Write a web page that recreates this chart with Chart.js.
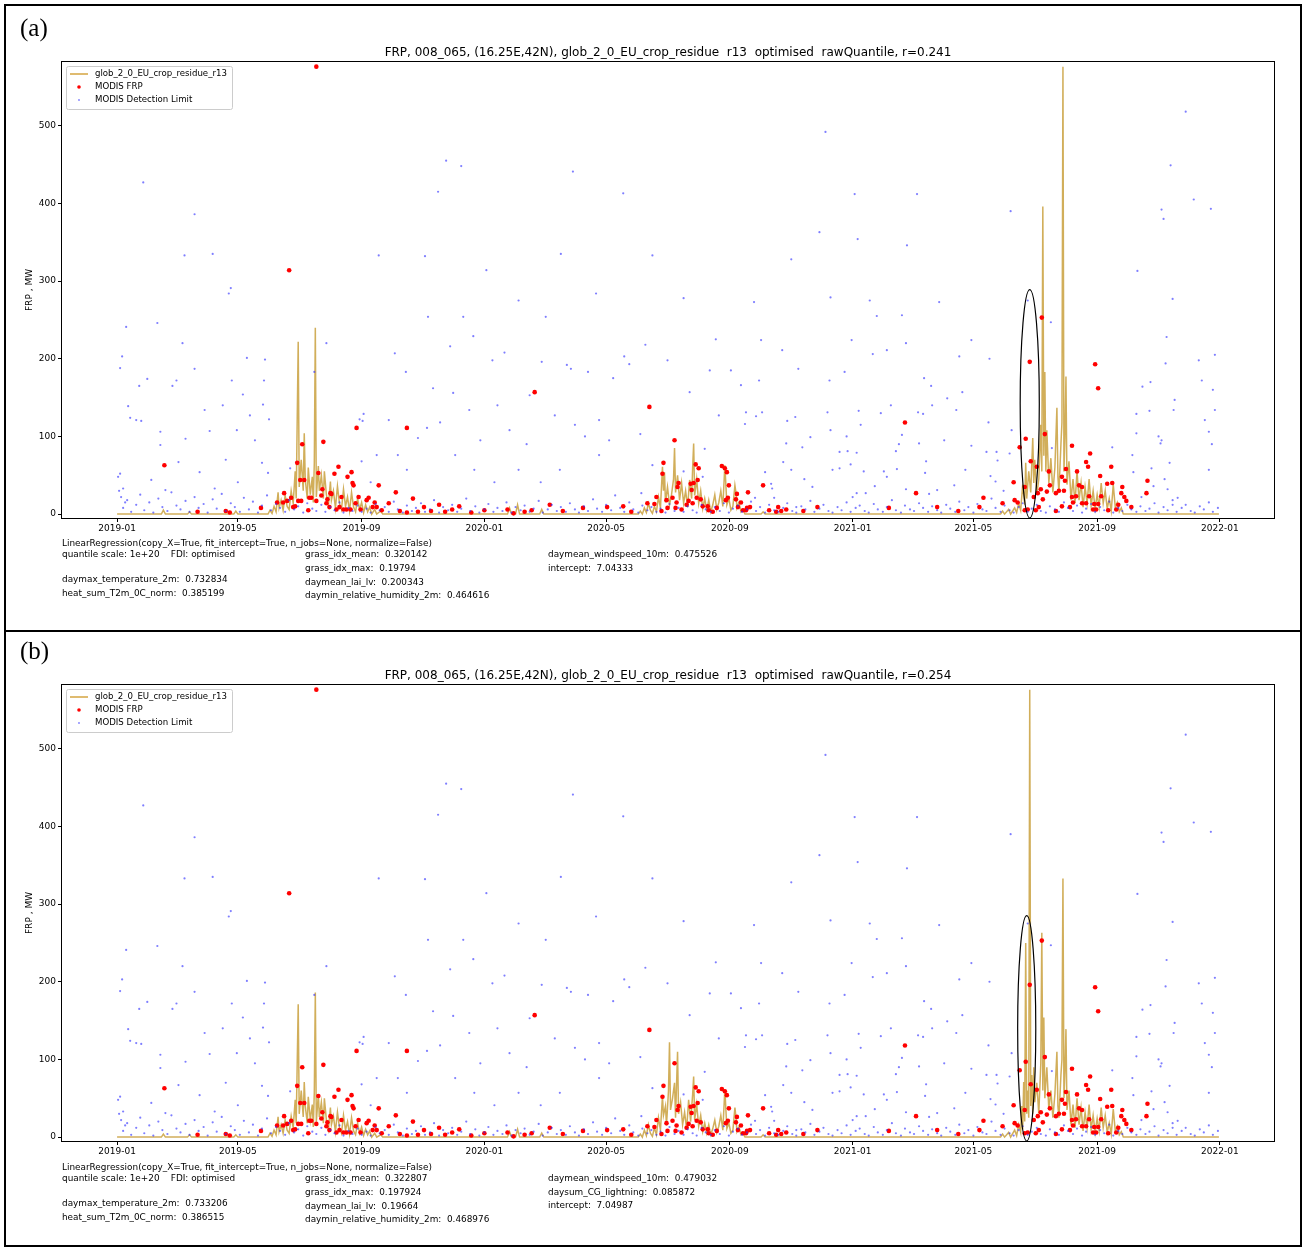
<!DOCTYPE html>
<html>
<head>
<meta charset="utf-8">
<script src="https://cdn.jsdelivr.net/npm/chart.js@4.4.0/dist/chart.umd.min.js"></script>
<style>
body { margin:0; background:#fff; width:1306px; height:1250px; position:relative; overflow:hidden; font-family:"DejaVu Sans", sans-serif; color:#000; }
canvas { position:absolute; left:0; }
.box { position:absolute; left:4px; top:4px; width:1298px; height:1243px; border:2px solid #000; box-sizing:border-box; }
.divider { position:absolute; left:4px; top:630px; width:1298px; height:2px; background:#000; }
.tag { position:absolute; left:20px; font-family:"Liberation Serif", serif; font-size:25px; line-height:25px; }
.t { position:absolute; font-size:8.9px; line-height:10px; white-space:pre; }
</style>
</head>
<body>
<canvas id="chartA" width="1306" height="625" style="top:0"></canvas>
<canvas id="chartB" width="1306" height="625" style="top:623px"></canvas>
<div class="box"></div>
<div class="divider"></div>
<div class="tag" style="top:15px">(a)</div>
<div class="tag" style="top:638px">(b)</div>

<div class="t" style="left:62px;top:538px">LinearRegression(copy_X=True, fit_intercept=True, n_jobs=None, normalize=False)</div>
<div class="t" style="left:62px;top:549px">quantile scale: 1e+20    FDI: optimised</div>
<div class="t" style="left:62px;top:574px">daymax_temperature_2m:  0.732834</div>
<div class="t" style="left:62px;top:588px">heat_sum_T2m_0C_norm:  0.385199</div>
<div class="t" style="left:305px;top:549px">grass_idx_mean:  0.320142</div>
<div class="t" style="left:305px;top:563px">grass_idx_max:  0.19794</div>
<div class="t" style="left:305px;top:577px">daymean_lai_lv:  0.200343</div>
<div class="t" style="left:305px;top:590px">daymin_relative_humidity_2m:  0.464616</div>
<div class="t" style="left:548px;top:549px">daymean_windspeed_10m:  0.475526</div>
<div class="t" style="left:548px;top:563px">intercept:  7.04333</div>

<div class="t" style="left:62px;top:1162px">LinearRegression(copy_X=True, fit_intercept=True, n_jobs=None, normalize=False)</div>
<div class="t" style="left:62px;top:1173px">quantile scale: 1e+20    FDI: optimised</div>
<div class="t" style="left:62px;top:1198px">daymax_temperature_2m:  0.733206</div>
<div class="t" style="left:62px;top:1212px">heat_sum_T2m_0C_norm:  0.386515</div>
<div class="t" style="left:305px;top:1173px">grass_idx_mean:  0.322807</div>
<div class="t" style="left:305px;top:1187px">grass_idx_max:  0.197924</div>
<div class="t" style="left:305px;top:1201px">daymean_lai_lv:  0.19664</div>
<div class="t" style="left:305px;top:1214px">daymin_relative_humidity_2m:  0.468976</div>
<div class="t" style="left:548px;top:1173px">daymean_windspeed_10m:  0.479032</div>
<div class="t" style="left:548px;top:1187px">daysum_CG_lightning:  0.085872</div>
<div class="t" style="left:548px;top:1200px">intercept:  7.04987</div>

<script>
// x values are days since 2019-01-01, y values are FRP in MW

const xTickLabels = ["2019-01", "2019-05", "2019-09", "2020-01", "2020-05", "2020-09", "2021-01", "2021-05", "2021-09", "2022-01"];
const yTicks = [0, 100, 200, 300, 400, 500];

// model FRP, panel (a)
const modelA = [
	[0,0],[44,0],[46,5],[48,0],[70,0],[72,3],[74,0],[116,0],[118,4],[120,0],[150,0],[152,5],[154,1],[156,10],[158,3],[160,28],[161,8],[163,18],[165,5],[167,24],[169,10],[171,6],[173,30],[175,14],[177,55],[178,20],[180,222],[181,35],[183,70],[185,30],[186,104],[187,45],[189,20],[190,60],[192,25],[194,48],[195,15],[196,66],[197,240],[198,22],[200,62],[201,30],[203,50],[205,20],[206,55],[208,25],[210,12],[212,42],[213,18],[215,30],[217,8],[219,36],[221,14],[223,6],[225,32],[227,10],[229,22],[231,4],[233,28],[235,9],[237,3],[239,20],[241,6],[243,15],[245,2],[247,12],[249,3],[251,9],[253,0],[256,6],[258,0],[262,4],[264,0],
	[388,0],[390,8],[392,0],[396,0],[398,12],[400,0],[420,0],[422,6],[424,0],
	[518,0],[520,4],[522,0],[524,8],[526,2],[528,14],[530,5],[532,1],[534,10],[536,3],[538,22],[540,8],[542,61],[543,30],[544,54],[545,15],[547,35],[549,12],[551,25],[553,45],[554,85],[555,28],[557,50],[559,18],[561,40],[563,14],[565,30],[567,9],[569,44],[571,20],[572,60],[573,91],[574,24],[576,45],[578,14],[580,30],[582,7],[584,20],[586,5],[588,18],[590,3],[592,12],[594,25],[596,6],[598,15],[600,30],[602,10],[604,63],[605,38],[606,12],[608,20],[610,5],[612,10],[614,37],[615,28],[616,8],[618,15],[620,3],[622,6],[624,0],[640,0],[642,3],[644,0],
	[878,0],[880,4],[882,0],[886,6],[888,0],[892,8],[894,2],[896,14],[898,5],[900,38],[902,12],[903,66],[904,20],[906,55],[908,28],[910,98],[911,40],[912,70],[914,25],[916,45],[918,115],[919,55],[920,396],[921,75],[922,183],[923,55],[924,108],[926,40],[928,72],[930,28],[932,60],[934,137],[935,48],[936,28],[938,90],[939,118],[940,576],[941,55],[942,100],[943,177],[944,38],[946,68],[948,18],[950,45],[952,14],[954,55],[956,18],[958,40],[960,9],[962,35],[964,14],[966,45],[968,11],[970,30],[972,7],[974,25],[976,9],[978,40],[980,14],[982,30],[984,7],[986,20],[988,4],[990,38],[992,9],[994,15],[996,3],[998,8],[1000,0],[1095,0]
];

// model FRP, panel (b)
const modelB = [
	[0,0],[44,0],[46,4],[48,0],[70,0],[72,3],[74,0],[116,0],[118,3],[120,0],[150,0],[152,5],[154,1],[156,9],[158,3],[160,26],[161,7],[163,16],[165,5],[167,22],[169,9],[171,5],[173,27],[175,12],[177,48],[178,18],[180,171],[181,30],[183,60],[185,26],[186,71],[187,40],[189,18],[190,52],[192,22],[194,42],[195,13],[196,58],[197,186],[198,20],[200,55],[201,26],[203,45],[205,18],[206,50],[208,22],[210,10],[212,38],[213,16],[215,27],[217,7],[219,32],[221,12],[223,5],[225,28],[227,9],[229,20],[231,4],[233,25],[235,8],[237,3],[239,18],[241,5],[243,13],[245,2],[247,10],[249,3],[251,8],[253,0],[256,5],[258,0],[262,3],[264,0],
	[388,0],[390,7],[392,0],[396,0],[398,10],[400,0],[420,0],[422,5],[424,0],
	[518,0],[520,4],[522,0],[524,9],[526,2],[528,16],[530,5],[532,1],[534,12],[536,3],[538,25],[540,9],[542,53],[543,28],[545,40],[546,15],[548,60],[549,122],[550,35],[552,50],[554,70],[555,25],[557,110],[558,30],[560,45],[562,16],[564,32],[566,10],[568,48],[570,20],[572,55],[573,78],[574,22],[576,42],[578,14],[580,28],[582,7],[584,18],[586,5],[588,16],[590,3],[592,11],[594,22],[596,6],[598,14],[600,28],[602,9],[604,62],[605,36],[606,11],[608,18],[610,5],[612,9],[614,38],[615,26],[616,7],[618,13],[620,3],[622,5],[624,0],[640,0],[642,3],[644,0],
	[878,0],[880,4],[882,0],[886,6],[888,0],[892,9],[894,2],[896,16],[898,6],[899,40],[900,10],[901,71],[902,20],[903,250],[904,30],[905,60],[906,25],[907,576],[908,40],[909,80],[910,30],[911,90],[912,45],[914,70],[916,30],[918,95],[919,263],[920,60],[921,154],[922,50],[924,90],[926,35],[928,60],[930,25],[932,55],[934,110],[935,40],[936,25],[938,80],[939,100],[940,333],[941,50],[942,85],[943,139],[944,35],[946,60],[948,16],[950,42],[952,12],[954,50],[956,16],[958,38],[960,8],[962,32],[964,12],[966,42],[968,10],[970,28],[972,6],[974,24],[976,8],[978,38],[980,12],[982,28],[984,6],[986,18],[988,4],[990,36],[992,8],[994,14],[996,3],[998,7],[1000,0],[1095,0]
];

// MODIS FRP observations (same in both panels)
const modisFrp = [
	[47,63],[80,3],[108,4],[112,2],[143,8],[165,15],[166,27],
	[159,15],[169,17],[171,314],[173,21],[175,9],[177,10],[179,66],[180,17],[182,44],[183,17],[184,90],[186,44],[190,5],[191,21],[193,21],[198,17],[198,576],[200,53],[203,24],[204,32],[205,93],[208,14],[209,19],[211,9],[212,27],[213,26],[216,52],[218,6],[220,61],[221,9],[223,22],[225,6],[228,6],[229,48],[232,6],[233,54],[234,40],[235,37],[237,14],[238,111],[240,22],[242,6],[248,18],[250,21],[254,9],[256,15],[258,9],[260,37],
	[263,5],[270,14],[277,28],[281,4],[288,111],[288,2],[294,20],[299,3],[305,9],[312,4],[320,12],[326,3],[333,6],[340,10],[352,2],[365,5],
	[388,6],[394,1],[405,3],[412,5],[415,157],[430,12],[443,4],[463,8],[487,9],[503,10],[511,3],
	[527,14],[529,138],[534,13],[536,22],[541,4],[542,52],[543,66],[546,18],[547,8],[552,21],[554,95],[555,8],[556,15],[557,35],[558,40],[561,6],[566,12],[568,17],[570,39],[571,31],[572,14],[573,40],[575,64],[576,21],[577,44],[578,59],[580,19],[582,10],[587,10],[588,5],[592,3],[596,8],[601,62],[604,59],[605,18],[606,54],[607,21],[608,37],[615,19],[616,26],[617,9],[620,15],[622,5],[625,5],[626,8],[627,28],[629,9],[642,37],[648,5],[655,3],[657,9],[660,4],[665,6],[682,4],[696,9],
	[767,8],[783,118],[794,27],[815,9],[836,4],[857,9],[861,21],
	[880,14],[892,18],[891,41],[895,15],[897,86],[902,35],[902,5],[903,97],[905,6],[907,196],[908,68],[911,22],[913,5],[914,61],[915,27],[916,9],[918,32],[919,253],[920,19],[922,103],[924,29],[926,55],[927,37],[933,27],[933,4],[936,30],[939,48],[939,10],[941,30],[942,43],[943,58],[947,9],[949,22],[949,88],[950,15],[953,23],[954,55],[956,37],[959,35],[959,14],[963,67],[963,14],[965,61],[966,23],[967,78],[970,6],[971,13],[972,193],[973,6],[975,162],[975,13],[977,49],[978,23],[984,39],[985,5],[988,61],[989,40],[993,6],[995,12],[998,27],[999,35],[1001,22],[1003,17],[1008,9],[1023,27],[1024,43]
];

// MODIS detection limit (same in both panels)
const modisLimit = [
	[147,199],[146,172],[145,141],[151,122],[144,66],[150,53],[208,220],[196,183],[172,59],[245,129],[241,122],[244,120],[258,76],[243,68],[252,41],
	[520,103],[625,131],[635,126],[641,131],[624,116],[666,120],[674,125],[706,131],[737,133],[759,130],[769,140],[796,131],[801,129],[810,140],[689,99],[709,108],[725,100],[739,115],[780,102],[777,90],[797,91],[584,84],[665,91],[681,86],[718,80],[726,81],[735,79],[774,81],[662,67],[804,68],[729,64],[670,57],[711,57],[718,59],[742,55],[762,55],[775,58],[803,53],[532,63],[563,55],[582,48],[644,54],[683,45],[765,48],[650,39],[651,33],[691,35],[753,36],[784,32],[735,27],[744,27],[731,22],[521,27],[634,21],[653,21],[807,26],[815,31],[675,9],
	[888,390],[1047,449],[1038,392],[1040,380],[1014,313],[1049,277],[1043,228],[1042,194],[928,247],[905,275],[867,200],[1019,164],[1027,170],[866,118],[889,108],[1051,147],[1050,134],[1026,133],[1013,129],[1013,104],[1035,100],[1038,95],[1037,91],[1046,66],[989,86],[929,85],[864,80],[874,80],[875,69],[887,78],[1009,76],[1028,59],[1010,54],[868,49],[873,42],[881,30],[1030,36],[1041,45],[1044,32],[1018,22],[1049,12],[1054,21],
	[26,427],[704,492],[1062,518],[327,455],[342,448],[319,415],[453,441],[503,413],[77,386],[1070,405],[1087,393],[733,412],[795,412],[113,291],[111,284],[95,335],[67,333],[260,333],[306,332],[367,314],[441,335],[476,284],[354,229],[399,275],[9,241],[40,246],[5,203],[3,188],[30,174],[22,165],[11,139],[13,124],[19,121],[24,120],[43,106],
	[1075,198],[1089,160],[1091,134],[1081,121],[1088,90],[1085,106],[1078,172],[1085,57],[1091,205],
	[55,165],[59,172],[65,220],[77,187],[87,134],[92,107],[105,140],[129,201],[125,154],[114,172],[132,127],[137,95],[43,89],[68,97],[119,108],[61,67],[82,54],[108,70],[34,44],[120,41],[48,31],[97,33],
	[276,207],[287,183],[314,162],[331,216],[334,156],[299,98],[308,111],[321,118],[288,57],[355,57],[270,121],[344,254],[309,254],[350,134],[361,95],[279,76],[336,76],
	[373,198],[385,208],[422,196],[447,192],[451,187],[468,183],[407,90],[465,100],[390,108],[435,127],[426,254],[399,57],[378,140],[410,153],[440,57],[479,76],[455,115],[375,41],[421,41],
	[504,203],[509,193],[493,175],[532,333],[563,278],[595,225],[589,185],[610,185],[620,166],[547,198],[525,218],[569,157],[598,127],[489,95],[479,121],
	[670,328],[633,273],[640,224],[677,187],[638,172],[661,211],[698,363],[709,279],[730,224],[723,183],[748,275],[751,206],[765,211],[784,220],[802,175],[809,165],[817,273],[837,203],[849,224],[840,157],[780,256],[736,354],[755,255],[785,346],[708,172],[825,149],[834,134],[849,88],[822,95],[843,57],[832,37],
	[1,48],[3,52],[6,33],[4,22],[8,15],[2,30],[6,8],[10,18],[14,3],[19,12],[23,25],[27,5],[32,15],[36,2],[41,20],[45,9],[50,4],[54,28],[59,11],[63,6],[68,17],[72,3],[77,22],[81,8],[86,13],[90,2],[95,19],[99,7],[104,26],[108,4],[113,14],[117,9],[122,3],[126,21],[131,6],[135,16],[140,2],[144,11],[149,24],[153,5],[158,13],[162,8],[167,3],[171,18],[176,6],[180,10],[185,2],[189,14],[194,7],[198,4],[203,12],[207,3],[212,9],[216,5],[221,15],[225,2],[230,8],[234,4],[239,11],[243,3],[248,7],[252,2],[257,13],[261,5],[266,9],[270,3],[275,16],[279,6],[284,2],[288,11],[293,4],[297,8],[302,14],[306,3],[311,6],[315,18],[320,2],[324,9],[329,5],[333,12],[338,3],[342,7],[347,20],[351,4],[356,10],[360,2],[365,6],[369,13],[374,3],[378,8],[383,4],[387,15],[392,2],[396,9],[401,5],[405,11],[410,3],[414,7],[419,17],[423,2],[428,6],[432,12],[437,4],[441,9],[446,3],[450,14],[455,6],[459,2],[464,10],[468,4],[473,19],[477,7],[482,3],[486,12],[491,5],[495,24],[500,8],[504,3],[509,15],[513,6],[518,2],[522,11],[527,5],[531,9],[536,3],[540,7],[545,2],[549,13],[554,4],[558,8],[563,3],[567,10],[572,5],[576,2],[581,12],[585,6],[590,3],[594,9],[599,4],[603,14],[608,2],[612,7],[617,11],[621,3],[626,6],[630,16],[635,4],[639,9],[644,2],[648,12],[653,5],[657,3],[662,8],[666,14],[671,4],[675,2],[680,10],[684,6],[689,17],[693,3],[698,7],[702,12],[707,4],[711,2],[716,9],[720,5],[725,15],[729,3],[734,8],[738,11],[743,4],[747,2],[752,13],[756,6],[761,3],[765,9],[770,18],[774,5],[779,2],[783,11],[788,6],[792,4],[797,14],[801,8],[806,3],[810,10],[815,5],[819,2],[824,12],[828,7],[833,3],[837,16],[842,5],[846,9],[851,2],[855,13],[860,6],[864,4],[869,20],[873,8],[878,3],[882,11],[887,5],[891,2],[896,9],[900,14],[905,3],[909,7],[914,12],[918,4],[923,2],[927,10],[932,6],[936,3],[941,15],[945,8],[950,4],[954,11],[959,2],[963,7],[968,13],[972,3],[977,9],[981,5],[986,16],[990,2],[995,8],[999,4],[1004,12],[1008,6],[1013,3],[1017,10],[1022,4],[1026,7],[1031,14],[1035,2],[1040,9],[1044,5],[1049,18],[1053,3],[1058,8],[1062,12],[1067,4],[1071,2],[1076,10],[1080,6],[1085,15],[1089,3],[1094,8]
];

// annotation ellipses, in data units (centre day, centre MW, half width days, half height MW)
const ellipseA = [907, 142, 9.5, 147];
const ellipseB = [904, 140, 9, 145];

const titleA = "FRP, 008_065, (16.25E,42N), glob_2_0_EU_crop_residue  r13  optimised  rawQuantile, r=0.241";
const titleB = "FRP, 008_065, (16.25E,42N), glob_2_0_EU_crop_residue  r13  optimised  rawQuantile, r=0.254";

const FONT = "'DejaVu Sans', sans-serif";
const T0 = Date.UTC(2019, 0, 1);
function dayOf(label) {
	const p = label.split("-");
	return (Date.UTC(+p[0], +p[1] - 1, 1) - T0) / 86400000;
}
function toXY(arr) {
	return arr.map((p) => ({ x: p[0], y: p[1] }));
}

// frame, title, ellipse and legend
const panelDeco = {
	id: "panelDeco",
	afterDatasetsDraw(chart, args, opts) {
		const ctx = chart.ctx;
		const a = chart.chartArea;
		const xs = chart.scales.x;
		const ys = chart.scales.y;
		ctx.save();

		// ellipse
		const e = opts.ellipse;
		const cx = xs.getPixelForValue(e[0]);
		const cy = ys.getPixelForValue(e[1]);
		const rx = Math.abs(xs.getPixelForValue(e[0] + e[2]) - cx);
		const ry = Math.abs(ys.getPixelForValue(e[1] + e[3]) - cy);
		ctx.beginPath();
		ctx.ellipse(cx, cy, rx, ry, 0, 0, Math.PI * 2);
		ctx.strokeStyle = "#000";
		ctx.lineWidth = 1.2;
		ctx.stroke();

		// frame
		ctx.lineWidth = 1;
		ctx.strokeRect(Math.round(a.left) - 0.5, Math.round(a.top) - 0.5, Math.round(a.width) + 1, Math.round(a.height) + 1);

		// title
		ctx.fillStyle = "#000";
		ctx.font = "12px " + FONT;
		ctx.textAlign = "center";
		ctx.textBaseline = "middle";
		ctx.fillText(opts.title, (a.left + a.right) / 2, a.top - 9);

		// legend
		const lx = a.left + 4, ly = a.top + 4;
		ctx.beginPath();
		ctx.roundRect(lx + 0.5, ly + 0.5, 166, 43, 2);
		ctx.fillStyle = "rgba(255,255,255,0.8)";
		ctx.fill();
		ctx.strokeStyle = "#cccccc";
		ctx.stroke();
		const ds = chart.data.datasets;
		ctx.font = "8.6px " + FONT;
		ctx.textAlign = "left";
		for (let i = 0; i < ds.length; i++) {
			const ry0 = ly + 8 + i * 13;
			if (i === 0) {
				ctx.beginPath();
				ctx.moveTo(lx + 4, ry0);
				ctx.lineTo(lx + 22, ry0);
				ctx.strokeStyle = "#d4a441";
				ctx.lineWidth = 1.5;
				ctx.stroke();
			} else {
				ctx.beginPath();
				ctx.arc(lx + 13, ry0, i === 1 ? 1.8 : 0.9, 0, Math.PI * 2);
				ctx.fillStyle = i === 1 ? "#ff0000" : "rgba(0,0,255,0.5)";
				ctx.fill();
			}
			ctx.fillStyle = "#000";
			ctx.fillText(ds[i].label, lx + 29, ry0);
		}
		ctx.restore();
	},
};

function makePanel(id, model, title, ellipse) {
	return new Chart(document.getElementById(id), {
		type: "scatter",
		data: {
			datasets: [
				{
					label: "glob_2_0_EU_crop_residue_r13",
					data: toXY(model),
					showLine: true,
					borderColor: "rgba(190,140,20,0.7)",
					borderWidth: 1.5,
					pointRadius: 0,
					order: 3,
				},
				{
					label: "MODIS FRP",
					data: toXY(modisFrp),
					backgroundColor: "#ff0000",
					borderWidth: 0,
					pointRadius: 2.3,
					order: 2,
				},
				{
					label: "MODIS Detection Limit",
					data: toXY(modisLimit),
					backgroundColor: "rgba(40,40,255,0.6)",
					borderWidth: 0,
					pointRadius: 1.1,
					order: 1,
				},
			],
		},
		options: {
			responsive: false,
			animation: false,
			devicePixelRatio: 1,
			layout: { padding: { left: 12, right: 32, top: 62, bottom: 77 } },
			plugins: {
				legend: { display: false },
				tooltip: { enabled: false },
				title: { display: false },
				panelDeco: { title: title, ellipse: ellipse },
			},
			scales: {
				x: {
					type: "linear",
					min: -54.75,
					max: 1149.75,
					afterBuildTicks: (s) => {
						s.ticks = xTickLabels.map((l) => ({ value: dayOf(l) }));
					},
					afterFit: (s) => {
						s.height = 30;
					},
					ticks: {
						autoSkip: false,
						maxRotation: 0,
						padding: 1,
						color: "#000",
						font: { size: 9, family: FONT },
						callback: (v, i) => xTickLabels[i],
					},
					grid: { display: true, drawOnChartArea: false, drawTicks: true, tickLength: 4, color: "#000" },
					border: { display: false },
				},
				y: {
					type: "linear",
					min: -5,
					max: 582,
					afterBuildTicks: (s) => {
						s.ticks = yTicks.map((v) => ({ value: v }));
					},
					afterFit: (s) => {
						s.width = 50;
					},
					ticks: {
						padding: 2,
						color: "#000",
						font: { size: 9, family: FONT },
					},
					grid: { display: true, drawOnChartArea: false, drawTicks: true, tickLength: 4, color: "#000" },
					border: { display: false },
					title: {
						display: true,
						text: "FRP , MW",
						color: "#000",
						font: { size: 9, family: FONT },
						padding: { top: 12, bottom: 0 },
					},
				},
			},
		},
		plugins: [panelDeco],
	});
}

makePanel("chartA", modelA, titleA, ellipseA);
makePanel("chartB", modelB, titleB, ellipseB);
</script>
</body>
</html>
